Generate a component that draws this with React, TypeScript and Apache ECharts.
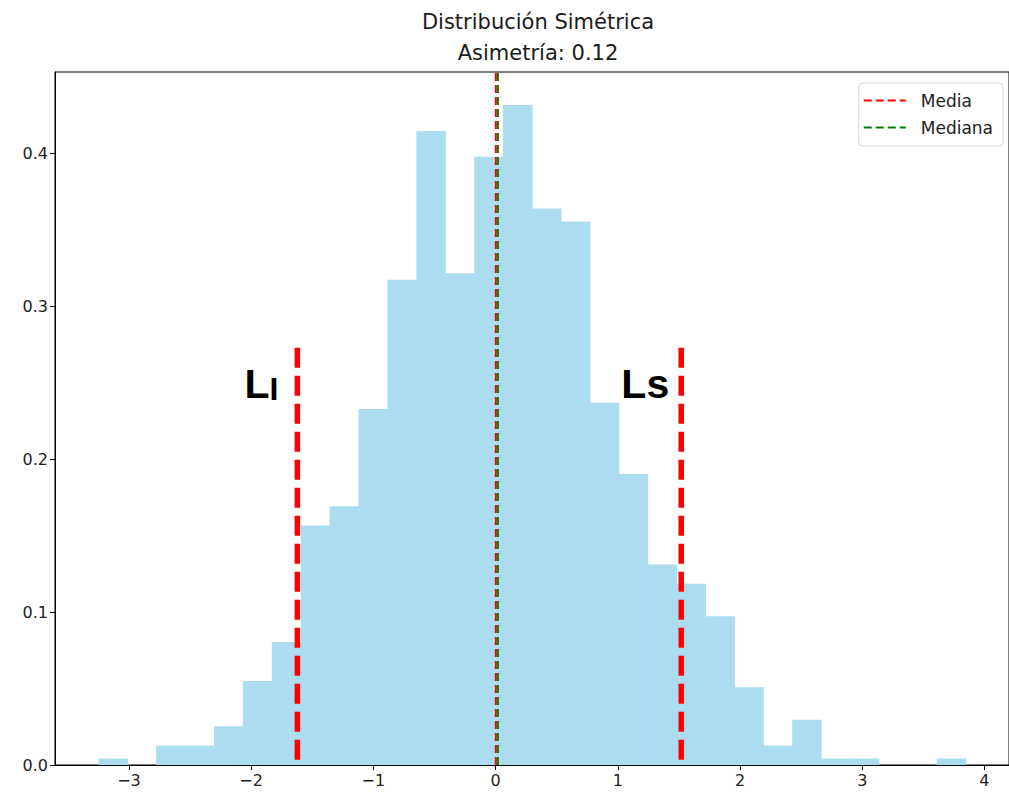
import React, { useEffect, useRef } from "react";
import * as echarts from "echarts";

// Histogram (density=True, n=1000, 30 bins)
const binEdges = [
  -3.25, -3.013, -2.777, -2.54, -2.304, -2.067, -1.831, -1.594, -1.358, -1.121,
  -0.885, -0.648, -0.412, -0.175, 0.061, 0.298, 0.534, 0.771, 1.008, 1.244,
  1.481, 1.717, 1.954, 2.19, 2.427, 2.663, 2.9, 3.136, 3.373, 3.609, 3.846,
];
const densities = [
  0.0042, 0, 0.0127, 0.0127, 0.0254, 0.055, 0.0804, 0.1566, 0.1693, 0.2328,
  0.3174, 0.4147, 0.3216, 0.3978, 0.4317, 0.364, 0.3555, 0.237, 0.1904, 0.1312,
  0.1185, 0.0973, 0.0508, 0.0127, 0.0296, 0.0042, 0.0042, 0, 0, 0.0042,
];

const meanValue = 0.002;
const medianValue = 0.019;
const limitValues = [-1.622, 1.519]; // Li, Ls
const limitTop = 0.273;
const limitLabels = ["LI", "Ls"];
const limitLabelPos = [
  [-1.915, 0.2486],
  [1.225, 0.2486],
];

const xTicks = [-3, -2, -1, 0, 1, 2, 3, 4];
const yTicks = [0, 0.1, 0.2, 0.3, 0.4];
const xMin = -3.605;
const xMax = 4.201;
const yMax = 0.4533;

const titleText = "Distribución Simétrica\nAsimetría: 0.12";

export default function App() {
  const ref = useRef<HTMLDivElement>(null);

  useEffect(() => {
    if (!ref.current) return;
    const chart = echarts.init(ref.current, null, { renderer: "svg" });
    const font = "DejaVu Sans";
    const histData = densities.map((d, i) => [binEdges[i], binEdges[i + 1], d]);
    const barColor = "#abdcf0";

    const option: any = {
      animation: false,
      title: {
        text: titleText,
        left: 533,
        top: 1,
        textAlign: "center",
        textStyle: {
          fontFamily: font,
          fontSize: 21,
          fontWeight: "normal",
          color: "#1a1a1a",
          lineHeight: 31,
        },
      },
      legend: {
        data: ["Media", "Mediana"],
        orient: "vertical",
        right: 6,
        top: 83,
        padding: [9, 10, 10, 4],
        itemWidth: 42,
        itemHeight: 14,
        itemGap: 10,
        borderColor: "#d5d5d5",
        borderWidth: 1,
        borderRadius: 4,
        backgroundColor: "rgba(255,255,255,0.8)",
        itemStyle: { opacity: 0, borderWidth: 0 },
        textStyle: {
          fontFamily: font,
          fontSize: 17,
          color: "#222",
          padding: [0, 0, 0, 10],
        },
      },
      grid: {
        left: 55,
        right: -3,
        top: 72,
        bottom: 30,
        show: true,
        borderColor: "#000",
        borderWidth: 1,
        backgroundColor: "transparent",
      },
      xAxis: {
        type: "value",
        min: xMin,
        max: xMax,
        splitLine: { show: false },
        axisLine: { show: true, onZero: false, lineStyle: { color: "#000", width: 1 } },
        axisTick: {
          show: true,
          customValues: xTicks,
          length: 5,
          lineStyle: { color: "#000" },
        },
        axisLabel: {
          customValues: xTicks,
          margin: 7,
          fontFamily: font,
          fontSize: 16,
          color: "#222",
          formatter: (v: number) =>
            v < 0 ? "\u2212" + String(Math.abs(v)) : String(v),
        },
      },
      yAxis: {
        type: "value",
        min: 0,
        max: yMax,
        splitLine: { show: false },
        axisLine: { show: true, onZero: false, lineStyle: { color: "#000", width: 1 } },
        axisTick: {
          show: true,
          customValues: yTicks,
          length: 5,
          lineStyle: { color: "#000" },
        },
        axisLabel: {
          customValues: yTicks,
          margin: 7,
          fontFamily: font,
          fontSize: 16,
          color: "#222",
          formatter: (v: number) => v.toFixed(1),
        },
      },
      series: [
        {
          type: "custom",
          name: "hist",
          data: histData,
          clip: true,
          z: 1,
          renderItem: (params: any, api: any) => {
            const x0 = api.value(0);
            const x1 = api.value(1);
            const h = api.value(2);
            const p0 = api.coord([x0, h]);
            const p1 = api.coord([x1, 0]);
            return {
              type: "rect",
              shape: {
                x: p0[0],
                y: p0[1],
                width: p1[0] - p0[0] + 0.6,
                height: p1[1] - p0[1],
              },
              style: { fill: barColor },
            };
          },
        },
        {
          type: "line",
          name: "Media",
          data: [
            [meanValue, 0],
            [meanValue, yMax],
          ],
          symbol: "none",
          showSymbol: false,
          z: 3,
          color: "#ff0000",
          lineStyle: { color: "#ff0000", width: 2, type: [8, 4] },
        },
        {
          type: "line",
          name: "Mediana",
          data: [
            [medianValue, 0],
            [medianValue, yMax],
          ],
          symbol: "none",
          showSymbol: false,
          z: 4,
          color: "#008000",
          lineStyle: { color: "#008000", width: 2, type: [8, 4] },
        },
        ...limitValues.map((lv, i) => ({
          type: "line",
          name: "limit" + i,
          data: [
            [lv, limitTop],
            [lv, 0],
          ],
          symbol: "none",
          z: 5,
          lineStyle: { color: "#ff0000", width: 5.5, type: [20, 8] },
        })),
        {
          type: "scatter",
          name: "labels",
          symbolSize: 0,
          z: 6,
          itemStyle: { opacity: 1 },
          data: limitLabelPos.map((p, i) => ({ value: p, name: limitLabels[i] })),
          label: {
            show: true,
            position: "inside",
            color: "#000",
            formatter: (p: any) =>
              p.name.charAt(1) === "I"
                ? "{a|L}{b|I}"
                : "{a|" + p.name + "}",
            rich: {
              a: {
                fontFamily: "Liberation Sans",
                fontWeight: "bold",
                fontSize: 41,
                color: "#000",
                lineHeight: 40,
                verticalAlign: "bottom",
              },
              b: {
                fontFamily: "Liberation Sans",
                fontWeight: "bold",
                fontSize: 32,
                color: "#000",
                lineHeight: 40,
                verticalAlign: "bottom",
              },
            },
          },
        },
      ],
    };

    chart.setOption(option);
    return () => chart.dispose();
  }, []);

  return (
    <div
      ref={ref}
      style={{ position: "absolute", left: 0, top: 0, width: 1009, height: 795 }}
    />
  );
}
